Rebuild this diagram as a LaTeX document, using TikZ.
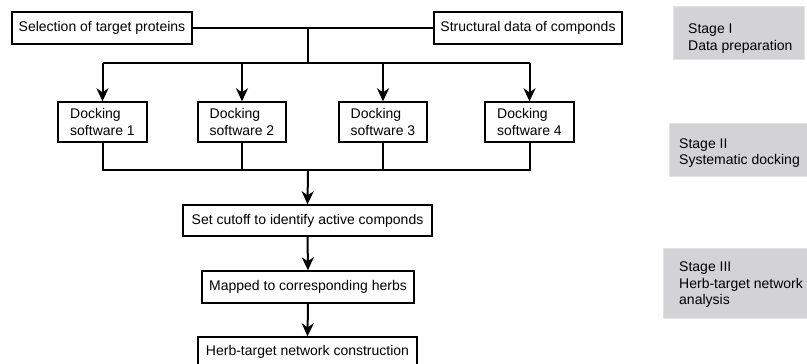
\documentclass[tikz,border=0pt]{standalone}
\usepackage{fontspec}
\setmainfont{Liberation Sans}
\usetikzlibrary{arrows.meta}
\definecolor{stagegrey}{RGB}{211,211,213}
\definecolor{stageedge}{RGB}{226,226,226}
\begin{document}
\begin{tikzpicture}[x=1pt,y=-1pt,
  every node/.style={font=\fontsize{14}{16.5}\selectfont, inner sep=0pt},
  box/.style={draw=black, line width=1.4pt, fill=white, align=left},
  conn/.style={draw=black, line width=2pt, line join=miter},
  arr/.style={conn, -{Stealth[length=13pt,width=12pt,inset=4pt]}},
  stagebg/.style={fill=stagegrey, draw=stageedge, line width=1pt},
  stagetxt/.style={align=left, anchor=west}]
\useasboundingbox (0,0) rectangle (807,364);
% stage panels
\node[stagebg, minimum width=131, minimum height=53] (s1) at (738.5,32.5) {};
\node[stagetxt] (s1t) at (688,38.5) {Stage I\\Data preparation};
\node[stagebg, minimum width=142, minimum height=53] (s2) at (740,149.5) {};
\node[stagetxt] (s2t) at (679,153) {Stage II\\Systematic docking};
\node[stagebg, minimum width=150, minimum height=70] (s3) at (738,283) {};
\node[stagetxt] (s3t) at (679,285) {Stage III\\Herb-target network\\analysis};
% flow boxes
\node[box, minimum width=180, minimum height=32] (sel) at (102,28) {Selection of target proteins};
\node[box, minimum width=188, minimum height=32] (str) at (528,28) {Structural data of componds};
\node[box, minimum width=89, minimum height=40] (d1) at (102.5,122) {Docking\\software 1};
\node[box, minimum width=88, minimum height=40] (d2) at (242,122) {Docking\\software 2};
\node[box, minimum width=88, minimum height=40] (d3) at (383,122) {Docking\\software 3};
\node[box, minimum width=89, minimum height=40] (d4) at (529.5,122) {Docking\\software 4};
\node[box, minimum width=249, minimum height=31] (cut) at (307.5,220.5) {Set cutoff to identify active componds};
\node[box, minimum width=212, minimum height=32] (map) at (308,287) {Mapped to corresponding herbs};
\node[box, minimum width=219, minimum height=30] (herb) at (307.5,352) {Herb-target network construction};
% connectors
\coordinate (top) at (308,28);
\coordinate (split) at (308,63);
\coordinate (merge) at (308,170);
\draw[conn] (sel.east) -- (str.west);
\draw[conn] (top) -- (split);
\draw[conn] (d1.north |- split) -- (d4.north |- split);
\foreach \d in {d1,d2,d3,d4} {
  \draw[arr] (\d.north |- split) -- (\d.north);
}
\draw[conn] (d1.south) -- (d1.south |- merge) -- (d4.south |- merge) -- (d4.south);
\draw[conn] (d2.south) -- (d2.south |- merge);
\draw[conn] (d3.south) -- (d3.south |- merge);
\draw[arr] (merge) -- (cut.north);
\draw[arr] (cut.south) -- (map.north);
\draw[arr] (map.south) -- (herb.north);
\end{tikzpicture}
\end{document}
